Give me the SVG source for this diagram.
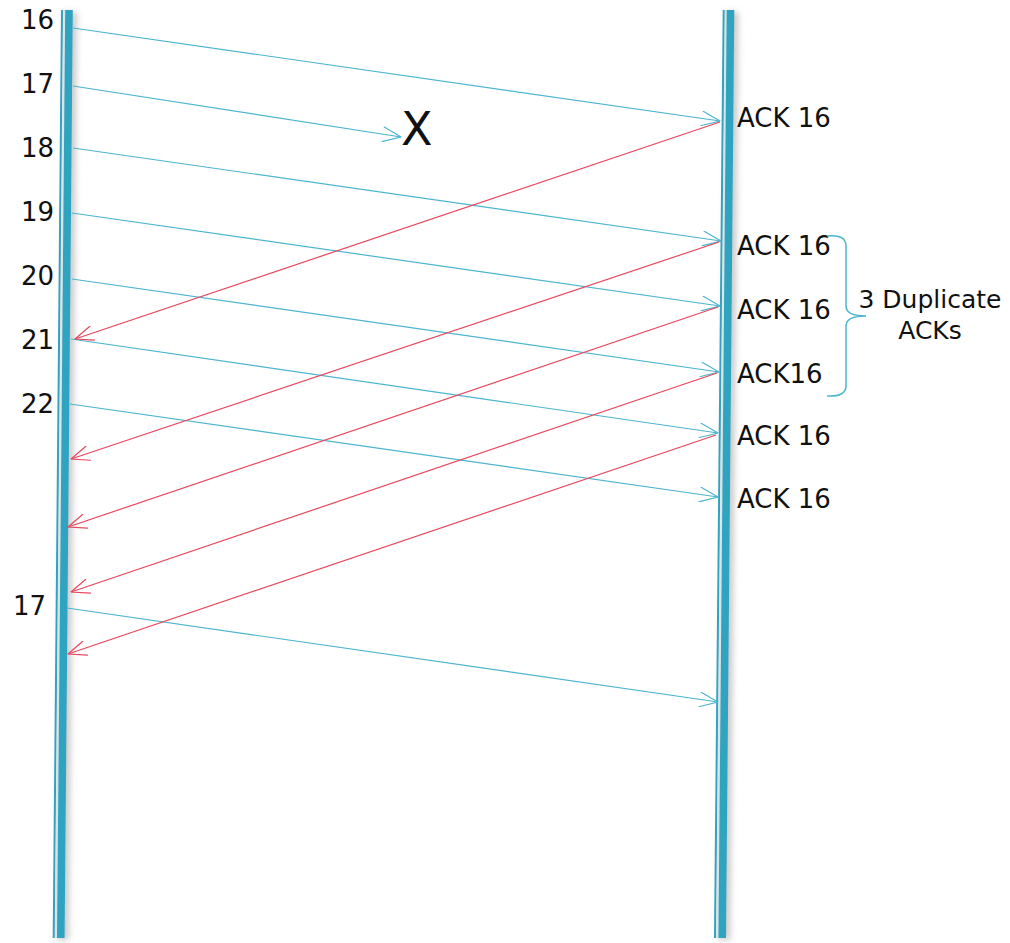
<svg xmlns="http://www.w3.org/2000/svg" width="1010" height="943" viewBox="0 0 1010 943">
<style>
.t{font-family:"DejaVu Sans","Liberation Sans",sans-serif;font-size:26px;fill:#111}
.d{font-size:25px}
.big{font-size:46px}
.thick{stroke:#2ea4c1;stroke-width:7.6;fill:none}
.thin{stroke:#2ea4c1;stroke-width:2;fill:none}
.gap{stroke:#dde3e5;stroke-width:2;fill:none}
.b{stroke:#4cb5cf;stroke-width:1.2;fill:none;marker-end:url(#ab)}
.r{stroke:#e8475c;stroke-width:1.2;fill:none;marker-end:url(#ar)}
.brace{stroke:#4cb5cf;stroke-width:1.5;fill:none}
</style>
<defs>
<filter id="sh" x="-50%" y="-5%" width="300%" height="110%">
<feDropShadow dx="4" dy="2" stdDeviation="3" flood-color="#888" flood-opacity="0.45"/>
</filter>
<marker id="ab" viewBox="0 0 20 16" refX="19.5" refY="8" markerWidth="20" markerHeight="16" markerUnits="userSpaceOnUse" orient="auto">
<path d="M1,0.5 L19.5,8 L1,15.5" fill="none" stroke="#4cb5cf" stroke-width="1.2"/>
</marker>
<marker id="ar" viewBox="0 0 20 16" refX="19.5" refY="8" markerWidth="20" markerHeight="16" markerUnits="userSpaceOnUse" orient="auto">
<path d="M1,0.5 L19.5,8 L1,15.5" fill="none" stroke="#e8475c" stroke-width="1.2"/>
</marker>
</defs>
<rect width="1010" height="943" fill="#fff"/>

<g id="sender" filter="url(#sh)">
<line class="thin" x1="62" y1="10" x2="53.7" y2="938"/>
<line class="gap" x1="64.3" y1="10" x2="56" y2="938"/>
<line class="thick" x1="69" y1="10" x2="60.8" y2="938"/>
</g>
<g id="receiver" filter="url(#sh)">
<line class="thin" x1="723.7" y1="10" x2="715" y2="938"/>
<line class="gap" x1="726" y1="10" x2="717.3" y2="938"/>
<line class="thick" x1="730.5" y1="10" x2="722.2" y2="938"/>
</g>

<g id="connectors">
<line class="b" x1="73" y1="28" x2="720" y2="121"/>
<line class="b" x1="73" y1="86" x2="401" y2="137"/>
<line class="b" x1="73" y1="148" x2="721" y2="241"/>
<line class="b" x1="72" y1="213" x2="720" y2="306"/>
<line class="b" x1="72" y1="279" x2="719" y2="372"/>
<line class="b" x1="71" y1="339" x2="718" y2="433"/>
<line class="b" x1="70" y1="404" x2="718" y2="497"/>
<line class="b" x1="67" y1="608" x2="718" y2="702"/>
<line class="r" x1="720" y1="122" x2="75" y2="339"/>
<line class="r" x1="719" y1="242" x2="71" y2="459"/>
<line class="r" x1="718" y1="307" x2="68" y2="527"/>
<line class="r" x1="717" y1="373" x2="71" y2="592"/>
<line class="r" x1="716" y1="435" x2="68" y2="654"/>
</g>

<g id="seq-labels">
<text class="t" x="54" y="29" text-anchor="end">16</text>
<text class="t" x="54" y="93" text-anchor="end">17</text>
<text class="t" x="54" y="157" text-anchor="end">18</text>
<text class="t" x="54" y="221" text-anchor="end">19</text>
<text class="t" x="54" y="285" text-anchor="end">20</text>
<text class="t" x="54" y="349" text-anchor="end">21</text>
<text class="t" x="54" y="413" text-anchor="end">22</text>
<text class="t" x="46" y="615" text-anchor="end">17</text>
</g>

<g id="loss">
<text class="t big" x="401" y="145">X</text>
</g>

<g id="ack-labels">
<text class="t" x="737" y="127">ACK 16</text>
<text class="t" x="737" y="255">ACK 16</text>
<text class="t" x="737" y="319">ACK 16</text>
<text class="t" x="737" y="383">ACK16</text>
<text class="t" x="737" y="445">ACK 16</text>
<text class="t" x="737" y="508">ACK 16</text>
</g>

<g id="dup-acks">
<path class="brace" d="M827,236 Q846,234 846,246 L846,306 Q846,316 866,316 Q846,316 846,326 L846,386 Q846,397 827,396"/>
<text class="t d" x="930" y="308" text-anchor="middle">3 Duplicate</text>
<text class="t d" x="930" y="339" text-anchor="middle">ACKs</text>
</g>
</svg>
